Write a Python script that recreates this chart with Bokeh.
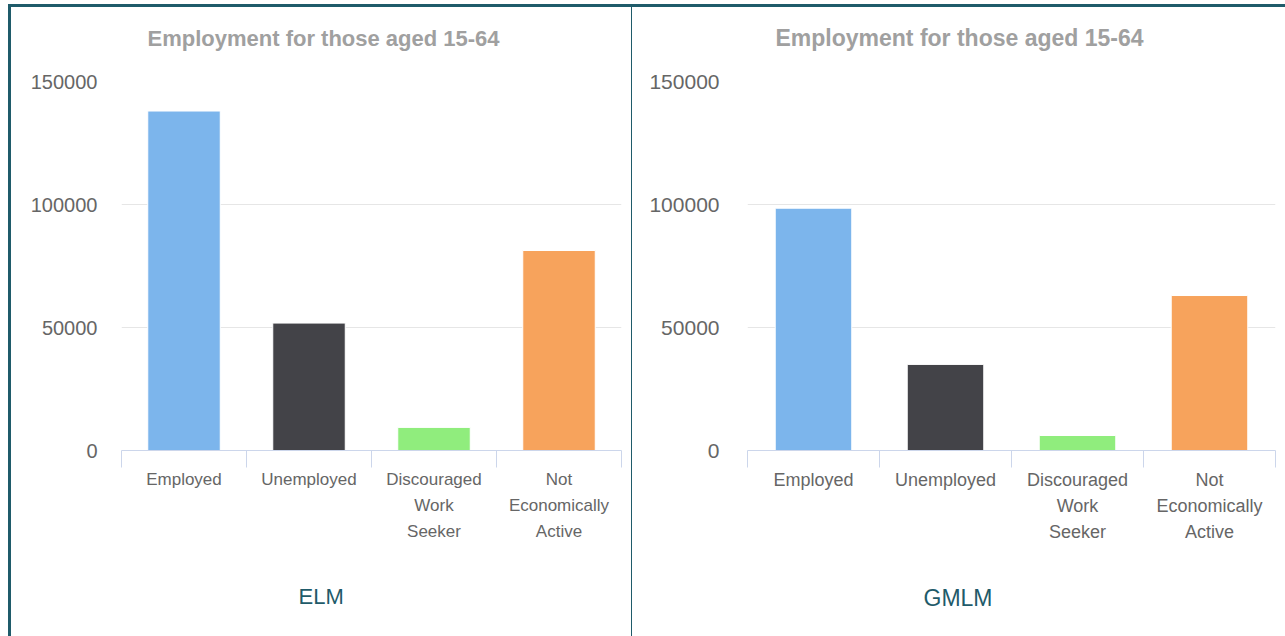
from bokeh.plotting import figure
from bokeh.models import (Range1d, LinearAxis, FixedTicker, NumeralTickFormatter, CustomJSTickFormatter,
                          Grid, Title, Div, ColumnDataSource)
from bokeh.layouts import row, column
from bokeh.embed import file_html
from bokeh.resources import INLINE

# ---------------- data ----------------
categories = ["Employed", "Unemployed", "Discouraged Work Seeker", "Not Economically Active"]
category_labels = ["Employed", "Unemployed", "Discouraged\nWork\nSeeker", "Not\nEconomically\nActive"]
elm_values = [138000, 51800, 9400, 81300]
gmlm_values = [98500, 35000, 6100, 63000]
bar_colors = ["#7cb5ec", "#434348", "#90ed7d", "#f7a35c"]
y_ticks = [0, 50000, 100000, 150000]
chart_title = "Employment for those aged 15-64"
panel_names = ["ELM", "GMLM"]

FONT = "Liberation Sans"
TEAL = "#1f5b6a"
FIG_H = 629

n = len(categories)
centers = [i + 0.5 for i in range(n)]          # category slot centres
edges = [float(i) for i in range(n + 1)]         # category slot boundaries


def spacer(h):
    # an unlabelled axis with one white tick at the left edge, used only to reserve space
    ax = LinearAxis(ticker=FixedTicker(ticks=[edges[0]]),
                    formatter=CustomJSTickFormatter(code="return ''"))
    ax.axis_line_color = None
    ax.major_tick_line_color = "white"
    ax.minor_tick_line_color = None
    ax.major_tick_in = 0
    ax.major_tick_out = h
    ax.minor_tick_in = 0
    ax.minor_tick_out = 0
    ax.major_label_standoff = 0
    ax.major_label_text_font_size = "1px"
    ax.major_label_text_color = None
    return ax


def make_panel(values, name, width, left, title_off, name_off, title_fs, lab_fs, lab_lh,
               tick_fs, name_fs, ystandoff):
    src = ColumnDataSource(dict(x=centers, cat=categories, value=values, color=bar_colors))
    p = figure(width=width, height=FIG_H,
               x_range=Range1d(0, n), y_range=Range1d(0, 150000),
               x_axis_location=None, y_axis_location=None,
               toolbar_location=None, output_backend="svg",
               min_border_left=left, min_border_right=10,
               min_border_top=74, min_border_bottom=186)
    p.center = [r for r in p.center if not isinstance(r, Grid)]
    p.outline_line_color = None
    p.background_fill_color = "white"
    p.border_fill_color = "white"

    p.add_layout(Grid(dimension=1, ticker=FixedTicker(ticks=y_ticks),
                      grid_line_color="#e6e6e6", grid_line_width=1))

    p.vbar(x="x", top="value", width=0.58, source=src,
           fill_color="color", line_color="white", line_width=1)

    # y axis
    yax = LinearAxis(ticker=FixedTicker(ticks=y_ticks),
                     formatter=NumeralTickFormatter(format="0"))
    yax.axis_line_color = None
    yax.major_tick_line_color = None
    yax.minor_tick_line_color = None
    yax.major_label_text_font = FONT
    yax.major_label_text_font_size = f"{tick_fs}px"
    yax.major_label_text_color = "#666666"
    yax.major_label_standoff = ystandoff
    p.add_layout(yax, "left")

    # x axis: boundary ticks (minor) and centred category labels
    xax = LinearAxis(ticker=FixedTicker(ticks=centers, minor_ticks=edges),
                     major_label_overrides={c: lab for c, lab in zip(centers, category_labels)})
    xax.axis_line_color = "#ccd6eb"
    xax.axis_line_width = 1
    xax.major_tick_line_color = None
    xax.major_tick_in = 0
    xax.major_tick_out = 0
    xax.minor_tick_line_color = "#ccd6eb"
    xax.minor_tick_in = 0
    xax.minor_tick_out = 17
    xax.major_label_text_font = FONT
    xax.major_label_text_font_size = f"{lab_fs}px"
    xax.major_label_text_color = "#666666"
    xax.major_label_text_line_height = lab_lh
    xax.major_label_standoff = 2
    p.add_layout(xax, "below")

    # chart title above the plot, with spacing
    p.add_layout(spacer(26), "above")
    p.add_layout(Title(text=chart_title, align="left", offset=title_off, standoff=10,
                       text_font=FONT, text_font_style="bold",
                       text_font_size=f"{title_fs}px", text_color="#a0a0a0"), "above")

    # region name below the plot, with spacing
    p.add_layout(spacer(33), "below")
    p.add_layout(Title(text=name, align="left", offset=name_off, standoff=10,
                       text_font=FONT, text_font_style="normal",
                       text_font_size=f"{name_fs}px", text_color=TEAL), "below")
    return p


p1 = make_panel(elm_values, panel_names[0], 620, 110, 26, 177, 22, 17, 1.37, 20, 22, 18)
p2 = make_panel(gmlm_values, panel_names[1], 653, 115, 28, 176, 23, 18, 1.3, 21, 23, 22)


def bar(w, h, margin):
    return Div(text="", width=w, height=h, margin=margin,
               styles={"background-color": TEAL})


top_line = bar(1285 - 8, 3, (4, 0, 0, 8))
left_line = bar(3, FIG_H, (0, 0, 0, 8))
divider = bar(1, FIG_H, (0, 0, 0, 0))

layout = column(top_line, row(left_line, p1, divider, p2, spacing=0), spacing=0)

open("out.html", "w").write(file_html(layout, INLINE))
